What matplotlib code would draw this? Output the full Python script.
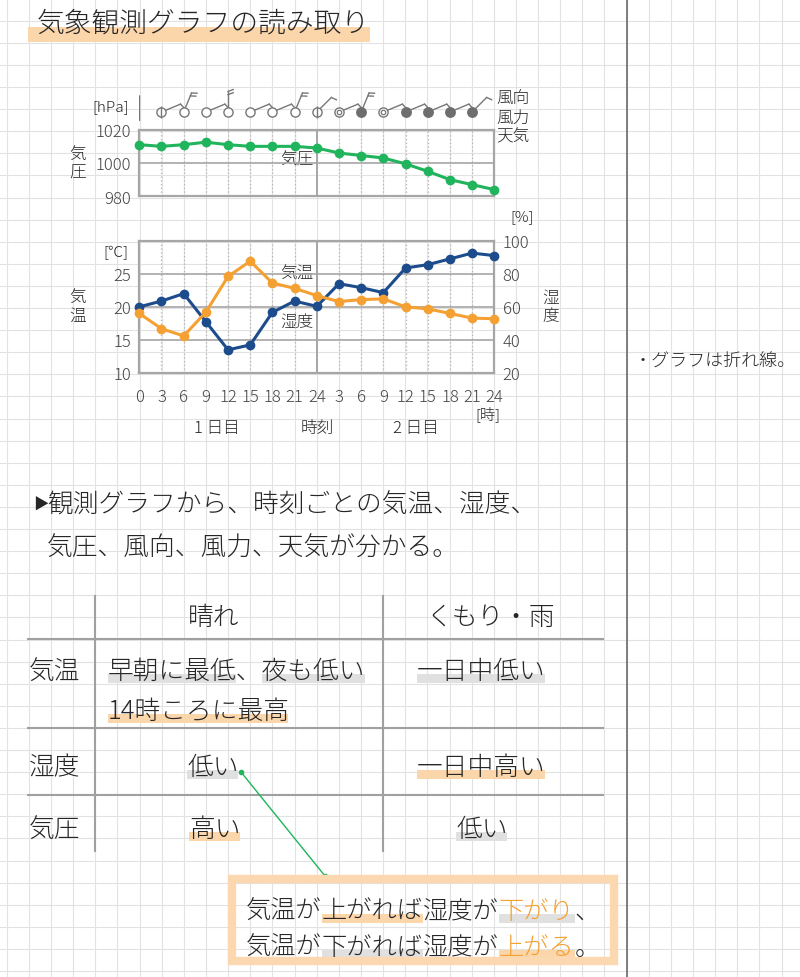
import numpy as np
import matplotlib.pyplot as plt
from matplotlib.patches import Rectangle

plt.rcParams['font.family'] = ['Noto Sans CJK JP', 'DejaVu Sans']
plt.rcParams['font.weight'] = 'light'

# ---- data ----
hours = np.arange(0, 49, 3)
hour_labels = ['0', '3', '6', '9', '12', '15', '18', '21', '24',
               '3', '6', '9', '12', '15', '18', '21', '24']
pressure = [1011, 1010, 1011, 1012.5, 1011, 1010, 1010, 1010, 1009,
            1006, 1004.5, 1003, 999.5, 995, 990, 987, 984]
temperature = [19.0, 16.7, 15.6, 19.2, 24.6, 26.9, 23.6, 22.8, 21.7,
               20.8, 21.1, 21.2, 20.0, 19.7, 19.0, 18.3, 18.2]
humidity = [60, 63.5, 68, 51, 34, 37, 56.7, 63.5, 60.3,
            74, 71.6, 68.6, 83.5, 85.5, 89, 92.5, 91]

wx_hours = np.arange(0, 46, 3)
weather = ['', '晴れ', '快晴', '快晴', '快晴', '快晴', '快晴', '快晴', '晴れ',
           'くもり', '雨', 'くもり', '雨', '雨', '雨', '雨']
wind_dir = ['北', '東北東', '北北東', '東北東', '北', '東北東', '東北東', '北北東',
            '北東', '東北東', '北北東', '東北東', '東北東', '東北東', '東北東', '北東']
wind_force = [2, 1, 2, 1, 2, 1, 1, 2, 1, 1, 2, 1, 1, 1, 1, 1]
dir_angle = {'東': 0, '東北東': 22.5, '北東': 45, '北北東': 67.5, '北': 90}

W, H = 800, 978
GRAY = '#a6a6a6'
ORANGE = '#f5a032'
BLUE = '#1d4c8c'
GREEN = '#20b45c'
HL_OR = '#fcd6ab'
HL_GR = '#e0e0e0'
INK = '#262626'

fig = plt.figure(figsize=(W / 100, H / 100), dpi=100)
bg = fig.add_axes([0, 0, 1, 1])
bg.set_xlim(0, W)
bg.set_ylim(H, 0)
bg.axis('off')

# notebook grid
for gx in np.arange(6.7, W, 22.14):
    bg.axvline(gx, color='#e2e2e2', lw=0.8, zorder=0)
for gy in np.arange(21.7, H, 22.1):
    bg.axhline(gy, color='#e2e2e2', lw=0.8, zorder=0)
bg.axvline(626.5, color='#6a6a6a', lw=1.2, zorder=1)


def px_axes(x0, y0, x1, y1):
    ax = fig.add_axes([x0 / W, 1 - y1 / H, (x1 - x0) / W, (y1 - y0) / H])
    ax.patch.set_alpha(0)
    return ax


def txt(x, y, s, size=12, color=INK, ha='center', **kw):
    bg.text(x, y, s, fontsize=size, color=color, ha=ha, va='center', **kw)


def hl(x0, x1, yc, color, top=3, bot=12):
    bg.add_patch(Rectangle((x0, yc + top), x1 - x0, bot - top, color=color, lw=0, zorder=1))


def chart_frame(ax):
    for s in ax.spines.values():
        s.set_color(GRAY)
        s.set_linewidth(1.6)
    ax.set_xlim(0, 48)
    for h in hours[1:-1]:
        if h == 24:
            ax.axvline(h, color=GRAY, lw=1.4, zorder=1)
        else:
            ax.axvline(h, color='#b4b4b4', lw=0.9, ls=(0, (1, 2)), zorder=1)
    ax.tick_params(length=0, labelsize=12, labelcolor='#444444')


# title
hl(28, 370, 25, HL_OR, top=3, bot=18)
txt(37, 24, '気象観測グラフの読み取り', size=20, ha='left')

# ---- pressure chart ----
ax_p = px_axes(139.3, 130.7, 494.3, 197.3)
chart_frame(ax_p)
ax_p.set_ylim(980, 1020)
ax_p.axhline(1000, color=GRAY, lw=1.2, zorder=1)
ax_p.plot(hours, pressure, color=GREEN, lw=2.2, marker='o', ms=6, zorder=3, clip_on=False)
ax_p.set_xticks([])
ax_p.set_yticks([980, 1000, 1020])
ax_p.tick_params(axis='y', pad=6)

# ---- weather / wind symbols ----
ax_w = px_axes(139.3, 88, 494.3, 128)
ax_w.set_xlim(0, 48)
ppu = (494.3 - 139.3) / 48
ax_w.set_ylim(0, 40 / ppu)
ax_w.axis('off')
yc = 15 / ppu
r = 4.6 / ppu
stick = 16 / ppu
blen = 5.5 / ppu
bgap = 3.2 / ppu
SYM = '#777777'
for h, w, d, f in zip(wx_hours, weather, wind_dir, wind_force):
    a = np.radians(dir_angle[d])
    if w == '':
        sx, sy = h, yc - 8 / ppu
        ln = 24 / ppu
    else:
        sx, sy = h + r * np.cos(a), yc + r * np.sin(a)
        ln = stick
    ex, ey = sx + ln * np.cos(a), sy + ln * np.sin(a)
    ax_w.plot([sx, ex], [sy, ey], color=SYM, lw=1, solid_capstyle='round')
    b = a - np.radians(70) if w != '' else a + np.radians(60)
    for i in range(f):
        bx, by = ex - i * bgap * np.cos(a), ey - i * bgap * np.sin(a)
        ax_w.plot([bx, bx + blen * np.cos(b)], [by, by + blen * np.sin(b)], color=SYM, lw=1)
    if w == '快晴' or w == '晴れ':
        ax_w.plot(h, yc, 'o', ms=6.6, mfc='white', mec=SYM, mew=1)
        if w == '晴れ':
            ax_w.plot(h, yc, '|', ms=9, mec=SYM, mew=1)
    elif w == 'くもり':
        ax_w.plot(h, yc, 'o', ms=6.6, mfc='white', mec=SYM, mew=1)
        ax_w.plot(h, yc, 'o', ms=3.2, mfc='white', mec=SYM, mew=0.9)
    elif w == '雨':
        ax_w.plot(h, yc, 'o', ms=6.8, mfc='#6e6e6e', mec='#6e6e6e', mew=1)

txt(111, 107, '[hPa]', size=11)
txt(513, 118, '風向\n風力\n天気', size=12, linespacing=1.18)
txt(78, 164, '気\n圧', size=12, linespacing=1.1)
txt(297, 160, '気圧', size=12)

# ---- temperature / humidity chart ----
ax_t = px_axes(139.3, 241.7, 494.3, 374)
chart_frame(ax_t)
ax_t.set_ylim(10, 30)
for v in (15, 20, 25):
    ax_t.axhline(v, color=GRAY, lw=1.2, zorder=1)
ax_t.set_yticks([10, 15, 20, 25])
ax_t.tick_params(axis='y', pad=6)
ax_t.set_xticks(hours)
ax_t.set_xticklabels(hour_labels)
ax_t.tick_params(axis='x', pad=11)

ax_h = ax_t.twinx()
ax_h.set_ylim(20, 100)
ax_h.set_yticks([20, 40, 60, 80, 100])
ax_h.tick_params(length=0, labelsize=12, labelcolor='#444444', pad=6)
for s in ax_h.spines.values():
    s.set_visible(False)

# both series drawn on the top axes; temperature uses the left-axis scale
ax_h.plot(hours, humidity, color=BLUE, lw=2.2, marker='o', ms=6, zorder=3, clip_on=False)
ax_h.plot(hours, temperature, color=ORANGE, lw=2.2, marker='o', ms=6, zorder=4,
          transform=ax_t.transData, clip_on=False)

txt(116, 253, '[℃]', size=11)
txt(522, 217, '[%]', size=11)
txt(78, 307, '気\n温', size=12, linespacing=1.1)
txt(551, 307, '湿\n度', size=12, linespacing=1.1)
txt(297, 274, '気温', size=12)
txt(297, 322, '湿度', size=12)
txt(488, 414, '[時]', size=11)
txt(217, 428, '1 日目', size=12)
txt(317, 428, '時刻', size=12)
txt(416, 428, '2 日目', size=12)

# side note
txt(634, 362, '・グラフは折れ線。', size=13, ha='left')

# ---- summary ----
txt(33, 505, '▶', size=11, ha='left')
txt(47, 505, '観測グラフから、時刻ごとの気温、湿度、', size=18.5, ha='left')
txt(47, 548, '気圧、風向、風力、天気が分かる。', size=18.5, ha='left')

# ---- table ----
for xv in (95, 383):
    bg.plot([xv, xv], [597, 852], color='#a0a0a0', lw=1.5)
for yv in (640, 729, 796):
    bg.plot([28, 603], [yv, yv], color='#a0a0a0', lw=1.5)

tsz = 18.5
cw = tsz * 100 / 72
txt(214, 618, '晴れ', size=tsz)
txt(490, 618, 'くもり・雨', size=tsz)
txt(55, 672, '気温', size=tsz)
hl(108, 108 + 5 * cw, 672, HL_GR)
hl(108 + 6 * cw, 108 + 10 * cw, 672, HL_GR)
txt(108, 672, '早朝に最低、夜も低い', size=tsz, ha='left')
hl(108, 108 + 7 * cw, 712, HL_OR)
txt(108, 712, '14時ころに最高', size=tsz, ha='left')
hl(417, 417 + 5 * cw, 672, HL_GR)
txt(417, 672, '一日中低い', size=tsz, ha='left')

txt(55, 768, '湿度', size=tsz)
hl(187, 187 + 2 * cw, 768, HL_GR)
txt(187, 768, '低い', size=tsz, ha='left')
hl(417, 417 + 5 * cw, 768, HL_OR)
txt(417, 768, '一日中高い', size=tsz, ha='left')

txt(55, 830, '気圧', size=tsz)
hl(189, 189 + 2 * cw, 830, HL_OR)
txt(189, 830, '高い', size=tsz, ha='left')
hl(456, 456 + 2 * cw, 830, HL_GR)
txt(456, 830, '低い', size=tsz, ha='left')

# connector
bg.plot([241, 325], [773, 877], color=GREEN, lw=1)
bg.plot([241, 325], [773, 877], 'o', color=GREEN, ms=3)

# ---- boxed conclusion ----
bg.add_patch(Rectangle((232, 880), 382, 82, fill=False, ec='#fcd8b0', lw=6, zorder=2))
bsz = 18.2
bw = bsz * 100 / 72
lines = [
    [('気温が', INK, None), ('上がれば', INK, HL_OR), ('湿度が', INK, None),
     ('下がり', ORANGE, HL_GR), ('、', INK, None)],
    [('気温が', INK, None), ('下がれば', INK, HL_GR), ('湿度が', INK, None),
     ('上がる', ORANGE, HL_OR), ('。', INK, None)],
]
for yy, segs in zip((912, 948), lines):
    x = 246
    for s, c, h in segs:
        if h:
            hl(x, x + len(s) * bw, yy, h)
        txt(x, yy, s, size=bsz, color=c, ha='left', zorder=3)
        x += len(s) * bw

fig.savefig('out.png', dpi=100)
